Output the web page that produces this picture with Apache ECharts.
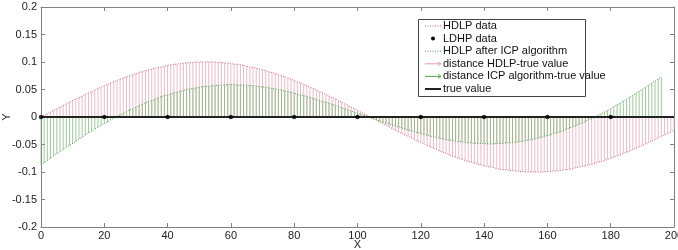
<!DOCTYPE html>
<html>
<head>
<meta charset="utf-8">
<script src="https://cdn.jsdelivr.net/npm/echarts@6/dist/echarts.min.js"></script>
<style>
html,body{margin:0;padding:0;background:#fff;}
#chart{width:678px;height:250px;}
</style>
</head>
<body>
<div id="chart"></div>
<script>
// HDLP data (x = 0..200, step 1)
const hdlpY = [
0,.003,.006,.009,.012,.015,.018,.021,.024,.027,
.030,.033,.035,.038,.041,.044,.046,.049,.052,.054,
.057,.059,.062,.064,.066,.069,.071,.073,.075,.077,
.079,.081,.082,.084,.086,.087,.089,.090,.091,.092,
.094,.095,.096,.096,.097,.098,.098,.099,.099,.100,
.100,.100,.100,.100,.100,.100,.099,.099,.098,.098,
.097,.096,.096,.095,.094,.092,.091,.090,.089,.087,
.086,.084,.082,.081,.079,.077,.075,.073,.071,.069,
.066,.064,.062,.059,.057,.054,.052,.049,.046,.044,
.041,.038,.035,.033,.030,.027,.024,.021,.018,.015,
.012,.009,.006,.003,0,-.003,-.006,-.009,-.012,-.015,
-.018,-.021,-.024,-.027,-.030,-.033,-.035,-.038,-.041,-.044,
-.046,-.049,-.052,-.054,-.057,-.059,-.062,-.064,-.066,-.069,
-.071,-.073,-.075,-.077,-.079,-.081,-.082,-.084,-.086,-.087,
-.089,-.090,-.091,-.092,-.094,-.095,-.096,-.096,-.097,-.098,
-.098,-.099,-.099,-.100,-.100,-.100,-.100,-.100,-.100,-.100,
-.099,-.099,-.098,-.098,-.097,-.096,-.096,-.095,-.094,-.092,
-.091,-.090,-.089,-.087,-.086,-.084,-.082,-.081,-.079,-.077,
-.075,-.073,-.071,-.069,-.066,-.064,-.062,-.059,-.057,-.054,
-.052,-.049,-.046,-.044,-.041,-.038,-.035,-.033,-.030,-.027,
-.024
];
// HDLP after ICP algorithm (x = 0..196, step 1)
const icpY = [
-.087,-.083,-.079,-.075,-.071,-.067,-.063,-.059,-.055,-.052,
-.048,-.044,-.040,-.037,-.033,-.029,-.026,-.022,-.019,-.015,
-.012,-.009,-.005,-.002,.001,.004,.007,.010,.013,.015,
.018,.021,.023,.026,.028,.030,.032,.035,.037,.039,
.040,.042,.044,.045,.047,.048,.050,.051,.052,.053,
.054,.055,.056,.056,.057,.057,.058,.058,.058,.059,
.059,.059,.058,.058,.058,.058,.057,.057,.056,.055,
.055,.054,.053,.052,.051,.050,.049,.047,.046,.045,
.043,.042,.040,.039,.037,.035,.034,.032,.030,.028,
.027,.025,.023,.021,.019,.017,.015,.013,.011,.009,
.007,.005,.003,.001,-.001,-.003,-.005,-.007,-.009,-.011,
-.013,-.015,-.017,-.018,-.020,-.022,-.024,-.025,-.027,-.029,
-.030,-.032,-.033,-.035,-.036,-.037,-.039,-.040,-.041,-.042,
-.043,-.044,-.045,-.045,-.046,-.047,-.047,-.048,-.048,-.048,
-.048,-.049,-.049,-.049,-.048,-.048,-.048,-.047,-.047,-.046,
-.046,-.045,-.044,-.043,-.042,-.041,-.040,-.038,-.037,-.035,
-.034,-.032,-.030,-.029,-.027,-.025,-.022,-.020,-.018,-.016,
-.013,-.011,-.008,-.005,-.003,0,.003,.006,.009,.012,
.015,.019,.022,.025,.029,.032,.036,.039,.043,.047,
.050,.054,.058,.062,.065,.069,.073
];
// LDHP data
const ldhpX = [0,20,40,60,80,100,120,140,160,180];
const ldhpY = [0,0,0,0,0,0,0,0,0,0];
// true value
const trueX = [0,200];
const trueY = [0,0];
const xTicks = [0,200,20];
const yTicks = [-0.2,0.2,0.05];
const legendNames = ['HDLP data','LDHP data','HDLP after ICP algorithm','distance HDLP-true value','distance ICP algorithm-true value','true value'];

const FONT = '"Liberation Sans", Arial, sans-serif';
const AX = '#808080';
const C = {
  redStem:'#ecbcc8', redLine:'#cc5c80',
  greenStem:'#7fb878', greenLine:'#4c9c4c'
};

const hdlpData = hdlpY.map((y,i)=>[i,y]);
const icpData = icpY.map((y,i)=>[i,y]);

function stem(color, opacity){
  return function(params, api){
    const x = api.value(0), y = api.value(1);
    const p0 = api.coord([x,0]);
    const p1 = api.coord([x,y]);
    return {type:'line', shape:{x1:p0[0],y1:p0[1],x2:p1[0],y2:p1[1]},
      style:{stroke:color, lineWidth:1, opacity:opacity}};
  };
}

const chart = echarts.init(document.getElementById('chart'), null, {renderer:'canvas'});

const axisCommon = {
  axisLine:{onZero:false, lineStyle:{color:AX, width:1}},
  axisTick:{inside:true, length:4, lineStyle:{color:AX}},
  splitLine:{show:false}
};

// legend (drawn as graphics)
const lx = 418, ly = 19, lw = 167, lh = 77;
const rows = [26, 38.6, 51.2, 63.8, 76.4, 89];
const ix0 = 425, ix1 = 441, tx = 443;
const g = [];
g.push({type:'rect', shape:{x:lx+0.5,y:ly+0.5,width:lw,height:lh}, style:{fill:'#fff', stroke:'#444', lineWidth:1}, z:100});
g.push({type:'line', shape:{x1:ix0,y1:rows[0],x2:ix1,y2:rows[0]}, style:{stroke:C.redLine, lineWidth:1, lineDash:[1,1.5]}, z:101});
g.push({type:'circle', shape:{cx:(ix0+ix1)/2, cy:rows[1], r:2}, style:{fill:'#000'}, z:101});
g.push({type:'line', shape:{x1:ix0,y1:rows[2],x2:ix1,y2:rows[2]}, style:{stroke:C.greenLine, lineWidth:1, lineDash:[1,1.5]}, z:101});
g.push({type:'line', shape:{x1:ix0,y1:rows[3],x2:ix1,y2:rows[3]}, style:{stroke:'#e59ab0', lineWidth:1}, z:101});
g.push({type:'polyline', shape:{points:[[ix1-3,rows[3]-2],[ix1,rows[3]],[ix1-3,rows[3]+2]]}, style:{stroke:'#e59ab0', lineWidth:1, fill:null}, z:101});
g.push({type:'line', shape:{x1:ix0,y1:rows[4],x2:ix1,y2:rows[4]}, style:{stroke:'#58a858', lineWidth:1}, z:101});
g.push({type:'polyline', shape:{points:[[ix1-3,rows[4]-2],[ix1,rows[4]],[ix1-3,rows[4]+2]]}, style:{stroke:'#58a858', lineWidth:1, fill:null}, z:101});
g.push({type:'line', shape:{x1:ix0,y1:rows[5],x2:ix1,y2:rows[5]}, style:{stroke:'#222', lineWidth:2}, z:101});
legendNames.forEach((t,i)=>{
  g.push({type:'text', x:tx, y:rows[i], style:{text:t, fill:'#111', fontSize:11, fontFamily:FONT, verticalAlign:'middle', align:'left'}, z:101});
});

const option = {
  animation:false,
  backgroundColor:'#fff',
  textStyle:{fontFamily:FONT},
  grid:{left:41, right:4, top:7, bottom:23, containLabel:false, outerBoundsMode:'none'},
  xAxis:[
    Object.assign({type:'value', min:xTicks[0], max:xTicks[1], interval:xTicks[2], position:'bottom',
      axisLabel:{color:'#222', fontSize:11, fontFamily:FONT, margin:3},
      name:'X', nameLocation:'middle', nameGap:12, nameMoveOverlap:false,
      nameTextStyle:{color:'#222', fontSize:11, fontFamily:FONT}}, axisCommon),
    Object.assign({type:'value', min:xTicks[0], max:xTicks[1], interval:xTicks[2], position:'top',
      axisLabel:{show:false}}, axisCommon)
  ],
  yAxis:[
    Object.assign({type:'value', min:yTicks[0], max:yTicks[1], interval:yTicks[2], position:'left',
      axisLabel:{color:'#222', fontSize:11, fontFamily:FONT, margin:4},
      name:'Y', nameLocation:'middle', nameGap:29, nameMoveOverlap:false,
      nameTextStyle:{color:'#222', fontSize:11, fontFamily:FONT}}, axisCommon),
    Object.assign({type:'value', min:yTicks[0], max:yTicks[1], interval:yTicks[2], position:'right',
      axisLabel:{show:false}}, axisCommon)
  ],
  series:[
    {name:legendNames[3], type:'custom', renderItem:stem(C.redStem,1), data:hdlpData, z:1, silent:true},
    {name:legendNames[0], type:'line', data:hdlpData, showSymbol:false, symbol:'none',
      lineStyle:{color:C.redLine, width:1, type:[1,1.5]}, z:2, silent:true},
    {name:legendNames[4], type:'custom', renderItem:stem(C.greenStem,0.75), data:icpData, z:3, silent:true},
    {name:legendNames[2], type:'line', data:icpData, showSymbol:false, symbol:'none',
      lineStyle:{color:C.greenLine, width:1, type:[1,1.5]}, z:4, silent:true},
    {name:legendNames[5], type:'line', data:trueX.map((x,i)=>[x,trueY[i]]), showSymbol:false, symbol:'none',
      lineStyle:{color:'#222', width:2}, z:5, silent:true},
    {name:legendNames[1], type:'scatter', data:ldhpX.map((x,i)=>[x,ldhpY[i]]), symbol:'circle', symbolSize:4.5,
      itemStyle:{color:'#000'}, z:6, silent:true}
  ],
  graphic:{elements:g}
};
chart.setOption(option);
</script>
</body>
</html>
